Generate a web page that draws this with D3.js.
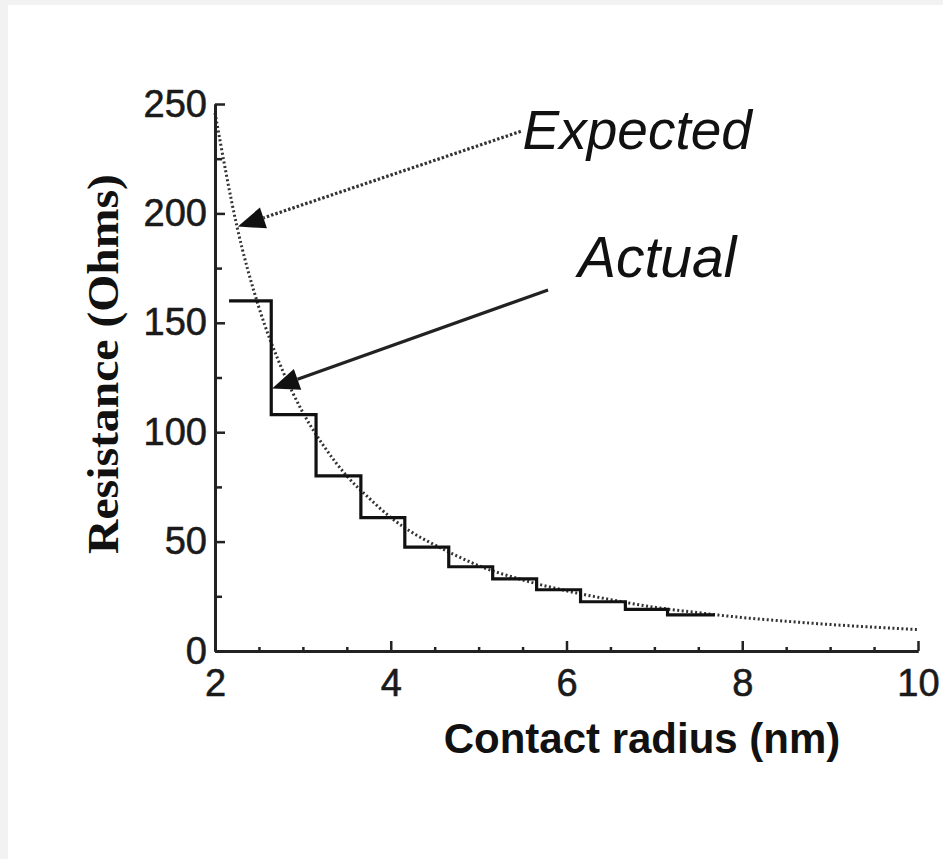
<!DOCTYPE html>
<html>
<head>
<meta charset="utf-8">
<script src="https://cdn.jsdelivr.net/npm/d3@7"></script>
<style>
  body { margin: 0; background: #f2f2f2; }
  svg { display: block; }
</style>
</head>
<body>
<script>
// data
const expectedR = [2, 2.25, 2.5, 2.75, 3, 3.25, 3.5, 3.75, 4, 4.25, 4.5, 4.75, 5, 5.5, 6, 6.5, 7, 7.5, 8, 8.5, 9, 9.5, 10];
const expectedOhms = [246, 194, 157, 130, 109, 93, 80, 70, 61, 54, 48.5, 43.5, 39, 32.5, 27.5, 23.5, 20, 17.5, 15.3, 13.6, 12.1, 10.9, 9.8];

const actualEdges = [2.16, 2.64, 3.15, 3.66, 4.16, 4.66, 5.16, 5.66, 6.16, 6.67, 7.15, 7.69];
const actualOhms = [160, 108, 80, 61, 47.5, 38.5, 33, 28, 22.5, 19, 16.5];

const xMajor = [2, 4, 6, 8, 10];
const xMinor = [2.5, 3, 3.5, 4.5, 5, 5.5, 6.5, 7, 7.5, 8.5, 9, 9.5];
const yMajor = [0, 50, 100, 150, 200, 250];
const yMinor = [25, 75, 125, 175, 225];

const width = 943;
const height = 859;

const x = d3.scaleLinear().domain([2, 10]).range([215, 918]);
const y = d3.scaleLinear().domain([0, 250]).range([651, 104]);

const svg = d3.select("body").append("svg")
    .attr("width", width)
    .attr("height", height);

// white card over grey page
svg.append("rect")
    .attr("x", 8).attr("y", 5)
    .attr("width", width - 8).attr("height", height - 5)
    .attr("fill", "#fff");

// expected curve (dotted)
const expData = expectedR.map((r, i) => [r, expectedOhms[i]]);
svg.append("path")
    .datum(expData)
    .attr("fill", "none")
    .attr("stroke", "#333")
    .attr("stroke-width", 3)
    .attr("stroke-dasharray", "2,2.5")
    .attr("d", d3.line().x(d => x(d[0])).y(d => y(d[1])).curve(d3.curveMonotoneX));

// actual step curve
const stepData = actualEdges.map((r, i) => [r, actualOhms[Math.min(i, actualOhms.length - 1)]]);
svg.append("path")
    .datum(stepData)
    .attr("fill", "none")
    .attr("stroke", "#111")
    .attr("stroke-width", 3.2)
    .attr("d", d3.line().x(d => x(d[0])).y(d => y(d[1])).curve(d3.curveStepAfter));

// axes - ticks point inward
const styleAxis = g => {
    g.select(".domain").attr("stroke", "#222").attr("stroke-width", 3);
    g.selectAll(".tick line").attr("stroke", "#222").attr("stroke-width", 2.5);
    g.selectAll("text")
        .attr("fill", "#1a1a1a")
        .attr("stroke", "#1a1a1a")
        .attr("stroke-width", 0.6)
        .style("font-family", "'Liberation Sans', Arial, sans-serif")
        .style("font-size", "38px");
};

svg.append("g")
    .attr("transform", "translate(0,651)")
    .call(d3.axisBottom(x).tickValues(xMinor).tickSize(-4).tickSizeOuter(0).tickFormat(""))
    .call(styleAxis);
svg.append("g")
    .attr("transform", "translate(0,651)")
    .call(d3.axisBottom(x).tickValues(xMajor).tickSize(-10).tickSizeOuter(0).tickPadding(18).tickFormat(d3.format("d")))
    .call(styleAxis);

svg.append("g")
    .attr("transform", "translate(215,0)")
    .call(d3.axisLeft(y).tickValues(yMinor).tickSize(-7).tickSizeOuter(0).tickFormat(""))
    .call(styleAxis);
svg.append("g")
    .attr("transform", "translate(215,0)")
    .call(d3.axisLeft(y).tickValues(yMajor).tickSize(-10).tickSizeOuter(0).tickPadding(8).tickFormat(d3.format("d")))
    .call(styleAxis);

// axis titles
svg.append("text")
    .attr("x", 642).attr("y", 753)
    .attr("text-anchor", "middle")
    .style("font-family", "'Liberation Sans', Arial, sans-serif")
    .style("font-weight", "bold")
    .style("font-size", "42px")
    .attr("fill", "#111")
    .text("Contact radius (nm)");

svg.append("text")
    .attr("transform", "translate(118,364) rotate(-90)")
    .attr("text-anchor", "middle")
    .attr("textLength", 380)
    .attr("lengthAdjust", "spacingAndGlyphs")
    .style("font-family", "'Liberation Serif', 'Times New Roman', serif")
    .style("font-weight", "bold")
    .style("font-size", "44px")
    .attr("fill", "#111")
    .text("Resistance (Ohms)");

// annotations
const arrow = (from, to, dashed) => {
    const x0 = x(from[0]), y0 = y(from[1]), x1 = x(to[0]), y1 = y(to[1]);
    const a = Math.atan2(y1 - y0, x1 - x0);
    const len = 27, half = 11;
    const bx = x1 - len * Math.cos(a), by = y1 - len * Math.sin(a);
    svg.append("line")
        .attr("x1", x0).attr("y1", y0).attr("x2", bx).attr("y2", by)
        .attr("stroke", dashed ? "#333" : "#222")
        .attr("stroke-width", 3.2)
        .attr("stroke-dasharray", dashed ? "2.5,2" : null);
    svg.append("path")
        .attr("d", `M${x1},${y1}L${bx - half * Math.sin(a)},${by + half * Math.cos(a)}L${bx + half * Math.sin(a)},${by - half * Math.cos(a)}Z`)
        .attr("fill", "#111");
};

arrow([5.48, 237.5], [2.26, 194], true);
arrow([5.79, 165], [2.65, 120], false);

svg.append("text")
    .attr("x", x(5.5)).attr("y", y(229.5))
    .style("font-family", "'Liberation Sans', Arial, sans-serif")
    .style("font-style", "italic")
    .style("font-size", "55px")
    .attr("fill", "#111")
    .text("Expected");

svg.append("text")
    .attr("x", x(6.13)).attr("y", y(171))
    .style("font-family", "'Liberation Sans', Arial, sans-serif")
    .style("font-style", "italic")
    .style("font-size", "57px")
    .attr("fill", "#111")
    .text("Actual");
</script>
</body>
</html>
